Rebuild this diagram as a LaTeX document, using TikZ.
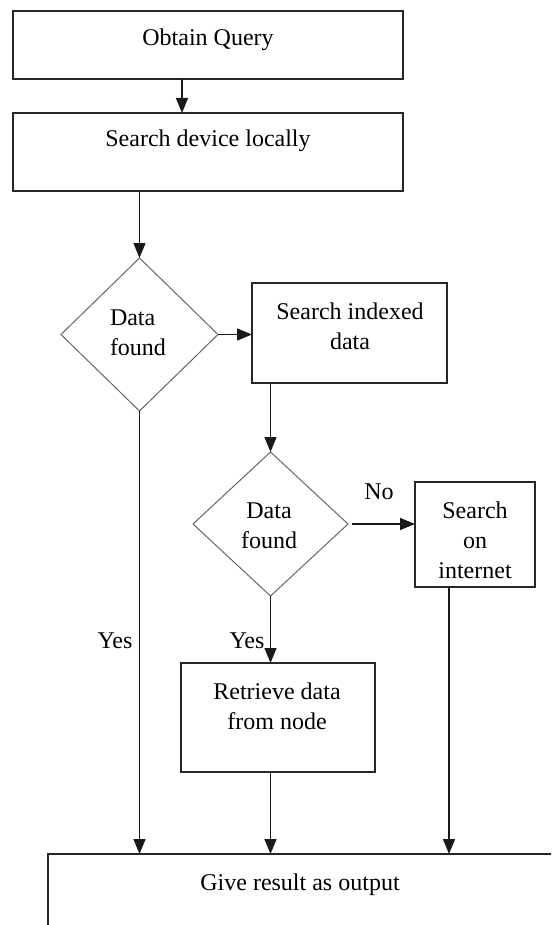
\documentclass[tikz,border=0pt]{standalone}
\usepackage{fontspec}
\setmainfont{Liberation Serif}
\usetikzlibrary{shapes.geometric,arrows.meta}
\begin{document}
\begin{tikzpicture}[x=1pt,y=-1pt,
  every node/.style={font=\fontsize{24}{30}\selectfont, inner sep=0pt, outer sep=0pt},
  stepbox/.style={draw=black!85, line width=1.5pt},
  decision/.style={diamond, draw=black!60, line width=1pt},
  txt/.style={align=center},
  arr/.style={draw=black!90, line width=1.4pt, -{Triangle[length=15pt,width=12pt]}}]

% page frame (parts of the last box run past it)
\clip (0,0) rectangle (551,925);

% process boxes and decisions
\node[stepbox, minimum width=390pt, minimum height=68pt]  (b1) at (208,45) {};
\node[stepbox, minimum width=390pt, minimum height=78pt]  (b2) at (208,152) {};
\node[decision, minimum width=157pt, minimum height=153pt] (d1) at (139.5,334.5) {};
\node[stepbox, minimum width=195pt, minimum height=100pt] (b3) at (349.5,333) {};
\node[decision, minimum width=155pt, minimum height=144pt] (d2) at (270.5,524) {};
\node[stepbox, minimum width=120pt, minimum height=105pt] (b4) at (475,534.5) {};
\node[stepbox, minimum width=194pt, minimum height=109pt] (b5) at (278,717.5) {};
\node[stepbox, anchor=north west, minimum width=520pt, minimum height=100pt] (out) at (48,854) {};

% texts
\node[txt] (t1) at (208,40) {Obtain Query};
\node[txt] (t2) at (208,141) {Search device locally};
\node[align=left, anchor=west] (t3) at (110,333) {Data\\found};
\node[txt] (t4) at (350,326) {Search indexed\\data};
\node[txt] (t5) at (269,526) {Data\\found};
\node[txt] (t6) at (475,540) {Search\\on\\internet};
\node[txt] (t7) at (277,706) {Retrieve data\\from node};
\node[txt] (t8) at (300,885) {Give result as output};
\node (no)   at (379,492) {No};
\node (yes1) at (115,641) {Yes};
\node (yes2) at (247,641) {Yes};

% connectors
\coordinate (b1o) at ([xshift=-26pt]b1.south);
\coordinate (b4o) at ([xshift=-26pt]b4.south);
\draw[arr] (b1o) -- (b1o |- b2.north);
\draw[arr] (b2.south -| d1.north) -- (d1.north);
\draw[arr] (d1.east) -- (d1.east -| b3.west);
\draw[arr] (b3.south -| d2.north) -- (d2.north);
\draw[arr, shorten <=4pt] (d2.east) -- (d2.east -| b4.west);
\draw[arr] (d2.south) -- (d2.south |- b5.north);
\draw[arr] (d1.south) -- (d1.south |- out.north);
\draw[arr] (b5.south -| d2.south) -- (d2.south |- out.north);
\draw[arr] (b4o) -- (b4o |- out.north);
\end{tikzpicture}
\end{document}
